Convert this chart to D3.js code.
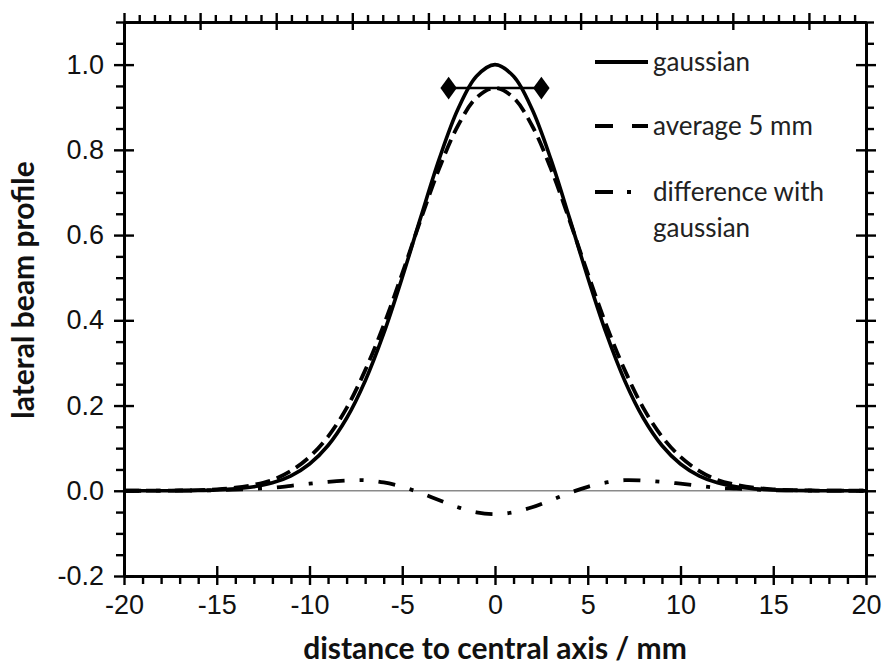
<!DOCTYPE html>
<html>
<head>
<meta charset="utf-8">
<script src="https://cdn.jsdelivr.net/npm/d3@7"></script>
<style>
  body { margin: 0; background: #fff; }
  svg { display: block; font-family: Lato, sans-serif; }
</style>
</head>
<body>
<div id="chart"></div>
<script>
// distance to central axis / mm
const positions = [-20, -19, -18, -17, -16, -15, -14, -13, -12, -11, -10, -9, -8, -7, -6, -5, -4, -3, -2, -1,
  0, 1, 2, 3, 4, 5, 6, 7, 8, 9, 10, 11, 12, 13, 14, 15, 16, 17, 18, 19, 20];

const gaussian = [0, 0, 0.0001, 0.0003, 0.0008, 0.0020, 0.0044, 0.0093, 0.0186, 0.0351, 0.0628, 0.1062, 0.1701,
  0.2576, 0.3691, 0.5006, 0.6422, 0.7795, 0.8952, 0.9727, 1.0000, 0.9727, 0.8952, 0.7795, 0.6422, 0.5006,
  0.3691, 0.2576, 0.1701, 0.1062, 0.0628, 0.0351, 0.0186, 0.0093, 0.0044, 0.0020, 0.0008, 0.0003, 0.0001, 0, 0];

const average5mm = [0, 0.0001, 0.0003, 0.0007, 0.0016, 0.0034, 0.0071, 0.0141, 0.0254, 0.0468, 0.0794, 0.1272,
  0.1940, 0.2825, 0.3886, 0.5099, 0.6370, 0.7571, 0.8565, 0.9222, 0.9452, 0.9222, 0.8565, 0.7571, 0.6370,
  0.5099, 0.3886, 0.2825, 0.1940, 0.1272, 0.0794, 0.0468, 0.0254, 0.0141, 0.0071, 0.0034, 0.0016, 0.0007,
  0.0003, 0.0001, 0];

const difference = [0, 0.0001, 0.0002, 0.0004, 0.0008, 0.0014, 0.0027, 0.0048, 0.0068, 0.0117, 0.0166, 0.0210,
  0.0239, 0.0249, 0.0195, 0.0093, -0.0052, -0.0224, -0.0387, -0.0505, -0.0548, -0.0505, -0.0387, -0.0224,
  -0.0052, 0.0093, 0.0195, 0.0249, 0.0239, 0.0210, 0.0166, 0.0117, 0.0068, 0.0048, 0.0027, 0.0014, 0.0008,
  0.0004, 0.0002, 0.0001, 0];

// 5 mm averaging window drawn at the averaged peak
const windowEnds = [-2.5, 2.5];
const windowLevel = 0.945;

const xMajor = [-20, -15, -10, -5, 0, 5, 10, 15, 20];
const yMajor = [-0.2, 0, 0.2, 0.4, 0.6, 0.8, 1.0];
const topMajor = [0, 5, 10, 15, 20, 25, 30, 35, 40, 45];

const legendItems = [
  {label: ['gaussian'], dash: null},
  {label: ['average 5 mm'], dash: '18,19'},
  {label: ['difference with', 'gaussian'], dash: '18,14,4,40'}
];

const width = 884, height = 666;
const margin = {top: 22, right: 18, bottom: 90, left: 124};

const svg = d3.select('#chart')
  .append('svg')
  .attr('width', width)
  .attr('height', height);

const x = d3.scaleLinear().domain([-20, 20]).range([margin.left, width - margin.right]);
const y = d3.scaleLinear().domain([-0.2, 1.1]).range([height - margin.bottom, margin.top]);
// secondary top axis, unlabeled, finer spacing than the bottom one
const xTop = d3.scaleLinear().domain([0, 48.75]).range([margin.left, width - margin.right]);

const xMinor = d3.range(-20, 20.5, 1).filter(v => v % 5 !== 0);
const yMinor = d3.range(-0.2, 1.101, 0.05).map(v => +v.toFixed(2)).filter(v => Math.round(v * 100) % 20 !== 0);
const topMinor = d3.range(0, 48.76, 1).filter(v => v % 5 !== 0);

// plain hyphen for negatives, like the original
const hyphen = f => d => f(d).replace('\u2212', '-');

// zero line
svg.append('line')
  .attr('x1', x(-20)).attr('x2', x(20))
  .attr('y1', y(0)).attr('y2', y(0))
  .attr('stroke', '#8a8a8a')
  .attr('stroke-width', 1.5);

const line = (vals) => d3.line()
  .x((d, i) => x(positions[i]))
  .y(d => y(d))
  .curve(d3.curveCatmullRom)(vals);

svg.append('path')
  .attr('d', line(difference))
  .attr('fill', 'none')
  .attr('stroke', '#000')
  .attr('stroke-width', 3.8)
  .attr('stroke-dasharray', '17,15,4,15');

svg.append('path')
  .attr('d', line(average5mm))
  .attr('fill', 'none')
  .attr('stroke', '#000')
  .attr('stroke-width', 3.8)
  .attr('stroke-dasharray', '15,7');

svg.append('path')
  .attr('d', line(gaussian))
  .attr('fill', 'none')
  .attr('stroke', '#000')
  .attr('stroke-width', 3.6);

// averaging window with diamond ends
svg.append('line')
  .attr('x1', x(windowEnds[0])).attr('x2', x(windowEnds[1]))
  .attr('y1', y(windowLevel)).attr('y2', y(windowLevel))
  .attr('stroke', '#000')
  .attr('stroke-width', 2.5);

svg.selectAll('.diamond')
  .data(windowEnds)
  .join('path')
  .attr('class', 'diamond')
  .attr('d', d3.symbol(d3.symbolDiamond, 150))
  .attr('transform', d => `translate(${x(d)},${y(windowLevel)}) scale(1.25,1)`)
  .attr('fill', '#000');

// axes: minor ticks point outward, major ticks cross the frame
const styleAxis = g => g
  .call(g => g.selectAll('.domain').attr('stroke', '#000').attr('stroke-width', 2.6))
  .call(g => g.selectAll('.tick line').attr('stroke', '#000').attr('stroke-width', 2.4));

const bottom = height - margin.bottom;
const right = width - margin.right;

svg.append('g').attr('transform', `translate(0,${bottom})`)
  .call(d3.axisBottom(x).tickValues(xMinor).tickSize(8).tickSizeOuter(0).tickFormat(''))
  .call(styleAxis);
svg.append('g').attr('transform', `translate(0,${bottom})`)
  .call(d3.axisTop(x).tickValues(xMajor).tickSize(10).tickSizeOuter(0).tickFormat(''))
  .call(styleAxis);
svg.append('g').attr('transform', `translate(0,${bottom})`)
  .call(d3.axisBottom(x).tickValues(xMajor).tickSize(9).tickSizeOuter(0).tickPadding(10)
    .tickFormat(hyphen(d3.format('d'))))
  .call(styleAxis)
  .call(g => g.selectAll('text').attr('fill', '#111').attr('font-size', 27));

svg.append('g').attr('transform', `translate(0,${margin.top})`)
  .call(d3.axisTop(xTop).tickValues(topMinor).tickSize(7).tickSizeOuter(0).tickFormat(''))
  .call(styleAxis);
svg.append('g').attr('transform', `translate(0,${margin.top})`)
  .call(d3.axisTop(xTop).tickValues(topMajor).tickSize(9).tickSizeOuter(0).tickFormat(''))
  .call(styleAxis);
svg.append('g').attr('transform', `translate(0,${margin.top})`)
  .call(d3.axisBottom(xTop).tickValues(topMajor).tickSize(8).tickSizeOuter(0).tickFormat(''))
  .call(styleAxis);

svg.append('g').attr('transform', `translate(${margin.left},0)`)
  .call(d3.axisLeft(y).tickValues(yMinor).tickSize(8).tickSizeOuter(0).tickFormat(''))
  .call(styleAxis);
svg.append('g').attr('transform', `translate(${margin.left},0)`)
  .call(d3.axisRight(y).tickValues(yMajor).tickSize(10).tickSizeOuter(0).tickFormat(''))
  .call(styleAxis);
svg.append('g').attr('transform', `translate(${margin.left},0)`)
  .call(d3.axisLeft(y).tickValues(yMajor).tickSize(10).tickSizeOuter(0).tickPadding(10)
    .tickFormat(hyphen(d3.format('.1f'))))
  .call(styleAxis)
  .call(g => g.selectAll('text').attr('fill', '#111').attr('font-size', 27));

svg.append('g').attr('transform', `translate(${right},0)`)
  .call(d3.axisRight(y).tickValues(yMinor).tickSize(8).tickSizeOuter(0).tickFormat(''))
  .call(styleAxis);
svg.append('g').attr('transform', `translate(${right},0)`)
  .call(d3.axisRight(y).tickValues(yMajor).tickSize(10).tickSizeOuter(0).tickFormat(''))
  .call(styleAxis);
svg.append('g').attr('transform', `translate(${right},0)`)
  .call(d3.axisLeft(y).tickValues(yMajor).tickSize(10).tickSizeOuter(0).tickFormat(''))
  .call(styleAxis);

// axis titles
svg.append('text')
  .attr('x', x(0))
  .attr('y', 659)
  .attr('text-anchor', 'middle')
  .attr('font-size', 30)
  .attr('font-weight', 'bold')
  .attr('fill', '#111')
  .text('distance to central axis / mm');

svg.append('text')
  .attr('transform', `translate(34,${290}) rotate(-90)`)
  .attr('text-anchor', 'middle')
  .attr('font-size', 30)
  .attr('font-weight', 'bold')
  .attr('fill', '#111')
  .text('lateral beam profile');

// legend
const legend = svg.append('g').attr('transform', 'translate(595,0)');
const legendY = [62, 126, 192];
legendItems.forEach((item, i) => {
  legend.append('line')
    .attr('x1', 0).attr('x2', 53)
    .attr('y1', legendY[i]).attr('y2', legendY[i])
    .attr('stroke', '#000')
    .attr('stroke-width', 3.8)
    .attr('stroke-dasharray', item.dash);
  item.label.forEach((t, j) => {
    legend.append('text')
      .attr('x', 58)
      .attr('y', legendY[i] + j * 36)
      .attr('dy', '0.35em')
      .attr('font-size', 26)
      .attr('fill', '#222')
      .text(t);
  });
});
</script>
</body>
</html>
